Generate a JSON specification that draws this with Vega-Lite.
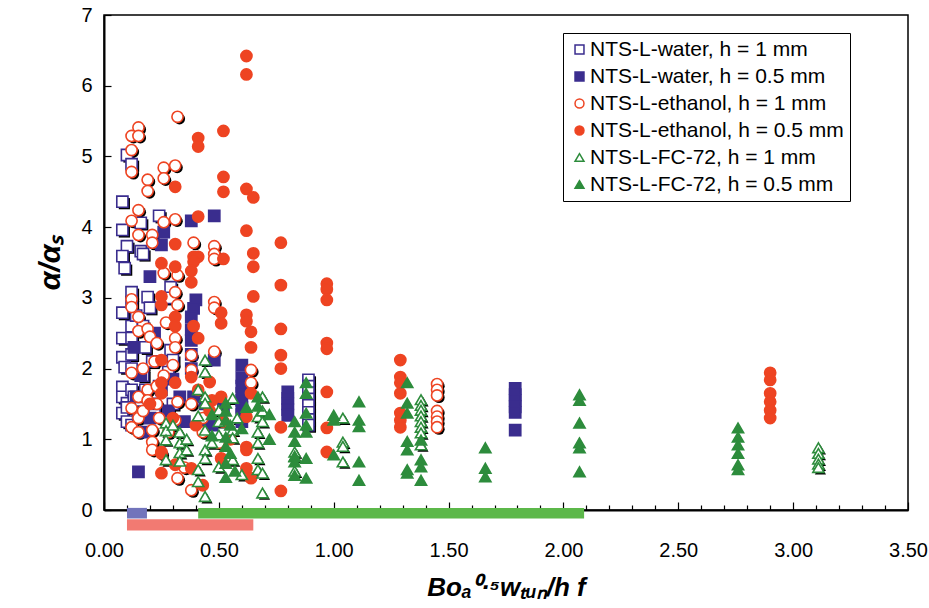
{
  "$schema": "https://vega.github.io/schema/vega-lite/v6.json",
  "autosize": {"type": "none"},
  "padding": {"left": 104, "top": 15, "right": 21, "bottom": 98},
  "width": 804,
  "height": 495,
  "background": "white",
  "config": {
    "view": {"stroke": "black", "strokeWidth": 1.5},
    "font": "Liberation Sans",
    "axis": {"domainColor": "black", "domainWidth": 2, "tickColor": "black", "tickWidth": 1.2, "labelColor": "black", "titleColor": "black", "grid": false, "labelFont": "Liberation Sans", "titleFont": "Liberation Sans"}
  },
  "resolve": {"axis": {"x": "independent"}},
  "datasets": {
    "bars": [
      {"liquid": "water", "x0": 0.1, "x1": 0.187, "y0": 0.03, "y1": -0.12},
      {"liquid": "FC-72", "x0": 0.41, "x1": 2.09, "y0": 0.03, "y1": -0.12},
      {"liquid": "ethanol", "x0": 0.1, "x1": 0.65, "y0": -0.13, "y1": -0.29}
    ],
    "pts": [
      {"series": "NTS-L-water, h = 1 mm", "x": 0.08, "y": 4.36},
      {"series": "NTS-L-water, h = 1 mm", "x": 0.10, "y": 5.02},
      {"series": "NTS-L-water, h = 1 mm", "x": 0.12, "y": 4.89},
      {"series": "NTS-L-water, h = 1 mm", "x": 0.24, "y": 4.16},
      {"series": "NTS-L-water, h = 1 mm", "x": 0.16, "y": 4.06},
      {"series": "NTS-L-water, h = 1 mm", "x": 0.08, "y": 3.96},
      {"series": "NTS-L-water, h = 1 mm", "x": 0.10, "y": 3.73},
      {"series": "NTS-L-water, h = 1 mm", "x": 0.16, "y": 3.66},
      {"series": "NTS-L-water, h = 1 mm", "x": 0.08, "y": 3.59},
      {"series": "NTS-L-water, h = 1 mm", "x": 0.17, "y": 3.62},
      {"series": "NTS-L-water, h = 1 mm", "x": 0.09, "y": 3.42},
      {"series": "NTS-L-water, h = 1 mm", "x": 0.08, "y": 2.79},
      {"series": "NTS-L-water, h = 1 mm", "x": 0.12, "y": 3.08},
      {"series": "NTS-L-water, h = 1 mm", "x": 0.12, "y": 2.94},
      {"series": "NTS-L-water, h = 1 mm", "x": 0.19, "y": 3.01},
      {"series": "NTS-L-water, h = 1 mm", "x": 0.20, "y": 2.86},
      {"series": "NTS-L-water, h = 1 mm", "x": 0.08, "y": 2.43},
      {"series": "NTS-L-water, h = 1 mm", "x": 0.12, "y": 2.43},
      {"series": "NTS-L-water, h = 1 mm", "x": 0.08, "y": 2.16},
      {"series": "NTS-L-water, h = 1 mm", "x": 0.12, "y": 2.2},
      {"series": "NTS-L-water, h = 1 mm", "x": 0.09, "y": 2.02},
      {"series": "NTS-L-water, h = 1 mm", "x": 0.12, "y": 2.0},
      {"series": "NTS-L-water, h = 1 mm", "x": 0.08, "y": 1.74},
      {"series": "NTS-L-water, h = 1 mm", "x": 0.08, "y": 1.6},
      {"series": "NTS-L-water, h = 1 mm", "x": 0.10, "y": 1.51},
      {"series": "NTS-L-water, h = 1 mm", "x": 0.08, "y": 1.37},
      {"series": "NTS-L-water, h = 1 mm", "x": 0.12, "y": 1.7},
      {"series": "NTS-L-water, h = 1 mm", "x": 0.13, "y": 1.6},
      {"series": "NTS-L-water, h = 1 mm", "x": 0.10, "y": 1.45},
      {"series": "NTS-L-water, h = 1 mm", "x": 0.10, "y": 1.25},
      {"series": "NTS-L-water, h = 1 mm", "x": 0.12, "y": 1.2},
      {"series": "NTS-L-water, h = 1 mm", "x": 0.15, "y": 1.35},
      {"series": "NTS-L-water, h = 1 mm", "x": 0.16, "y": 1.55},
      {"series": "NTS-L-water, h = 1 mm", "x": 0.18, "y": 1.7},
      {"series": "NTS-L-water, h = 1 mm", "x": 0.17, "y": 1.9},
      {"series": "NTS-L-water, h = 1 mm", "x": 0.18, "y": 2.3},
      {"series": "NTS-L-water, h = 1 mm", "x": 0.17, "y": 2.6},
      {"series": "NTS-L-water, h = 1 mm", "x": 0.12, "y": 2.6},
      {"series": "NTS-L-water, h = 1 mm", "x": 0.29, "y": 3.15},
      {"series": "NTS-L-water, h = 1 mm", "x": 0.29, "y": 3.0},
      {"series": "NTS-L-water, h = 1 mm", "x": 0.29, "y": 2.26},
      {"series": "NTS-L-water, h = 1 mm", "x": 0.30, "y": 2.12},
      {"series": "NTS-L-water, h = 1 mm", "x": 0.28, "y": 1.95},
      {"series": "NTS-L-water, h = 1 mm", "x": 0.30, "y": 1.5},
      {"series": "NTS-L-water, h = 1 mm", "x": 0.28, "y": 1.35},
      {"series": "NTS-L-water, h = 1 mm", "x": 0.14, "y": 2.75},
      {"series": "NTS-L-water, h = 1 mm", "x": 0.21, "y": 2.1},
      {"series": "NTS-L-water, h = 1 mm", "x": 0.22, "y": 1.45},
      {"series": "NTS-L-water, h = 1 mm", "x": 0.24, "y": 1.75},
      {"series": "NTS-L-water, h = 1 mm", "x": 0.89, "y": 1.84},
      {"series": "NTS-L-water, h = 1 mm", "x": 0.89, "y": 1.75},
      {"series": "NTS-L-water, h = 1 mm", "x": 0.89, "y": 1.66},
      {"series": "NTS-L-water, h = 1 mm", "x": 0.89, "y": 1.57},
      {"series": "NTS-L-water, h = 1 mm", "x": 0.89, "y": 1.48},
      {"series": "NTS-L-water, h = 1 mm", "x": 0.89, "y": 1.38},
      {"series": "NTS-L-water, h = 1 mm", "x": 0.89, "y": 1.28},
      {"series": "NTS-L-water, h = 1 mm", "x": 0.89, "y": 1.2},

      {"series": "NTS-L-water, h = 0.5 mm", "x": 0.48, "y": 4.16},
      {"series": "NTS-L-water, h = 0.5 mm", "x": 0.38, "y": 4.09},
      {"series": "NTS-L-water, h = 0.5 mm", "x": 0.26, "y": 3.93},
      {"series": "NTS-L-water, h = 0.5 mm", "x": 0.15, "y": 0.54},
      {"series": "NTS-L-water, h = 0.5 mm", "x": 0.40, "y": 2.97},
      {"series": "NTS-L-water, h = 0.5 mm", "x": 0.39, "y": 2.85},
      {"series": "NTS-L-water, h = 0.5 mm", "x": 0.38, "y": 2.73},
      {"series": "NTS-L-water, h = 0.5 mm", "x": 0.38, "y": 2.55},
      {"series": "NTS-L-water, h = 0.5 mm", "x": 0.38, "y": 2.4},
      {"series": "NTS-L-water, h = 0.5 mm", "x": 0.38, "y": 2.2},
      {"series": "NTS-L-water, h = 0.5 mm", "x": 0.38, "y": 2.0},
      {"series": "NTS-L-water, h = 0.5 mm", "x": 0.48, "y": 2.12},
      {"series": "NTS-L-water, h = 0.5 mm", "x": 0.60, "y": 2.05},
      {"series": "NTS-L-water, h = 0.5 mm", "x": 0.60, "y": 1.87},
      {"series": "NTS-L-water, h = 0.5 mm", "x": 0.60, "y": 1.75},
      {"series": "NTS-L-water, h = 0.5 mm", "x": 0.60, "y": 1.65},
      {"series": "NTS-L-water, h = 0.5 mm", "x": 0.60, "y": 1.55},
      {"series": "NTS-L-water, h = 0.5 mm", "x": 0.60, "y": 1.45},
      {"series": "NTS-L-water, h = 0.5 mm", "x": 0.60, "y": 1.35},
      {"series": "NTS-L-water, h = 0.5 mm", "x": 0.60, "y": 1.25},
      {"series": "NTS-L-water, h = 0.5 mm", "x": 0.80, "y": 1.67},
      {"series": "NTS-L-water, h = 0.5 mm", "x": 0.80, "y": 1.58},
      {"series": "NTS-L-water, h = 0.5 mm", "x": 0.80, "y": 1.5},
      {"series": "NTS-L-water, h = 0.5 mm", "x": 0.80, "y": 1.42},
      {"series": "NTS-L-water, h = 0.5 mm", "x": 0.80, "y": 1.34},
      {"series": "NTS-L-water, h = 0.5 mm", "x": 1.79, "y": 1.72},
      {"series": "NTS-L-water, h = 0.5 mm", "x": 1.79, "y": 1.63},
      {"series": "NTS-L-water, h = 0.5 mm", "x": 1.79, "y": 1.55},
      {"series": "NTS-L-water, h = 0.5 mm", "x": 1.79, "y": 1.46},
      {"series": "NTS-L-water, h = 0.5 mm", "x": 1.79, "y": 1.38},
      {"series": "NTS-L-water, h = 0.5 mm", "x": 1.79, "y": 1.13},
      {"series": "NTS-L-water, h = 0.5 mm", "x": 0.20, "y": 1.3},
      {"series": "NTS-L-water, h = 0.5 mm", "x": 0.22, "y": 1.5},
      {"series": "NTS-L-water, h = 0.5 mm", "x": 0.25, "y": 1.7},
      {"series": "NTS-L-water, h = 0.5 mm", "x": 0.28, "y": 1.4},
      {"series": "NTS-L-water, h = 0.5 mm", "x": 0.33, "y": 1.6},
      {"series": "NTS-L-water, h = 0.5 mm", "x": 0.35, "y": 1.25},
      {"series": "NTS-L-water, h = 0.5 mm", "x": 0.18, "y": 1.1},
      {"series": "NTS-L-water, h = 0.5 mm", "x": 0.14, "y": 1.6},
      {"series": "NTS-L-water, h = 0.5 mm", "x": 0.16, "y": 1.9},
      {"series": "NTS-L-water, h = 0.5 mm", "x": 0.30, "y": 1.85},
      {"series": "NTS-L-water, h = 0.5 mm", "x": 0.44, "y": 1.5},
      {"series": "NTS-L-water, h = 0.5 mm", "x": 0.44, "y": 1.25},
      {"series": "NTS-L-water, h = 0.5 mm", "x": 0.52, "y": 1.45},
      {"series": "NTS-L-water, h = 0.5 mm", "x": 0.25, "y": 3.75},
      {"series": "NTS-L-water, h = 0.5 mm", "x": 0.20, "y": 3.3},
      {"series": "NTS-L-water, h = 0.5 mm", "x": 0.13, "y": 2.3},
      {"series": "NTS-L-water, h = 0.5 mm", "x": 0.22, "y": 2.5},
      {"series": "NTS-L-water, h = 0.5 mm", "x": 0.39, "y": 1.6},
      {"series": "NTS-L-water, h = 0.5 mm", "x": 0.47, "y": 1.2},

      {"series": "NTS-L-ethanol, h = 1 mm", "x": 0.32, "y": 5.56},
      {"series": "NTS-L-ethanol, h = 1 mm", "x": 0.15, "y": 5.41},
      {"series": "NTS-L-ethanol, h = 1 mm", "x": 0.12, "y": 5.29},
      {"series": "NTS-L-ethanol, h = 1 mm", "x": 0.15, "y": 5.29},
      {"series": "NTS-L-ethanol, h = 1 mm", "x": 0.12, "y": 5.09},
      {"series": "NTS-L-ethanol, h = 1 mm", "x": 0.12, "y": 4.78},
      {"series": "NTS-L-ethanol, h = 1 mm", "x": 0.26, "y": 4.84},
      {"series": "NTS-L-ethanol, h = 1 mm", "x": 0.31, "y": 4.87},
      {"series": "NTS-L-ethanol, h = 1 mm", "x": 0.26, "y": 4.69},
      {"series": "NTS-L-ethanol, h = 1 mm", "x": 0.19, "y": 4.67},
      {"series": "NTS-L-ethanol, h = 1 mm", "x": 0.19, "y": 4.51},
      {"series": "NTS-L-ethanol, h = 1 mm", "x": 0.15, "y": 4.24},
      {"series": "NTS-L-ethanol, h = 1 mm", "x": 0.12, "y": 4.09},
      {"series": "NTS-L-ethanol, h = 1 mm", "x": 0.26, "y": 4.07},
      {"series": "NTS-L-ethanol, h = 1 mm", "x": 0.31, "y": 4.11},
      {"series": "NTS-L-ethanol, h = 1 mm", "x": 0.15, "y": 3.89},
      {"series": "NTS-L-ethanol, h = 1 mm", "x": 0.21, "y": 3.89},
      {"series": "NTS-L-ethanol, h = 1 mm", "x": 0.21, "y": 3.78},
      {"series": "NTS-L-ethanol, h = 1 mm", "x": 0.39, "y": 3.78},
      {"series": "NTS-L-ethanol, h = 1 mm", "x": 0.48, "y": 3.73},
      {"series": "NTS-L-ethanol, h = 1 mm", "x": 0.48, "y": 3.62},
      {"series": "NTS-L-ethanol, h = 1 mm", "x": 0.48, "y": 3.55},
      {"series": "NTS-L-ethanol, h = 1 mm", "x": 0.26, "y": 3.35},
      {"series": "NTS-L-ethanol, h = 1 mm", "x": 0.32, "y": 3.32},
      {"series": "NTS-L-ethanol, h = 1 mm", "x": 0.31, "y": 3.08},
      {"series": "NTS-L-ethanol, h = 1 mm", "x": 0.32, "y": 2.9},
      {"series": "NTS-L-ethanol, h = 1 mm", "x": 0.48, "y": 2.94},
      {"series": "NTS-L-ethanol, h = 1 mm", "x": 0.48, "y": 2.86},
      {"series": "NTS-L-ethanol, h = 1 mm", "x": 0.15, "y": 2.73},
      {"series": "NTS-L-ethanol, h = 1 mm", "x": 0.12, "y": 2.98},
      {"series": "NTS-L-ethanol, h = 1 mm", "x": 0.12, "y": 2.87},
      {"series": "NTS-L-ethanol, h = 1 mm", "x": 0.15, "y": 2.53},
      {"series": "NTS-L-ethanol, h = 1 mm", "x": 0.19, "y": 2.56},
      {"series": "NTS-L-ethanol, h = 1 mm", "x": 0.20, "y": 2.45},
      {"series": "NTS-L-ethanol, h = 1 mm", "x": 0.23, "y": 2.36},
      {"series": "NTS-L-ethanol, h = 1 mm", "x": 0.31, "y": 2.43},
      {"series": "NTS-L-ethanol, h = 1 mm", "x": 0.31, "y": 2.3},
      {"series": "NTS-L-ethanol, h = 1 mm", "x": 0.38, "y": 2.19},
      {"series": "NTS-L-ethanol, h = 1 mm", "x": 0.48, "y": 2.24},
      {"series": "NTS-L-ethanol, h = 1 mm", "x": 0.12, "y": 1.94},
      {"series": "NTS-L-ethanol, h = 1 mm", "x": 0.15, "y": 1.6},
      {"series": "NTS-L-ethanol, h = 1 mm", "x": 0.12, "y": 1.44},
      {"series": "NTS-L-ethanol, h = 1 mm", "x": 0.15, "y": 1.3},
      {"series": "NTS-L-ethanol, h = 1 mm", "x": 0.12, "y": 1.17},
      {"series": "NTS-L-ethanol, h = 1 mm", "x": 0.15, "y": 1.1},
      {"series": "NTS-L-ethanol, h = 1 mm", "x": 0.21, "y": 1.13},
      {"series": "NTS-L-ethanol, h = 1 mm", "x": 0.21, "y": 0.96},
      {"series": "NTS-L-ethanol, h = 1 mm", "x": 0.21, "y": 0.85},
      {"series": "NTS-L-ethanol, h = 1 mm", "x": 0.19, "y": 1.7},
      {"series": "NTS-L-ethanol, h = 1 mm", "x": 0.19, "y": 1.55},
      {"series": "NTS-L-ethanol, h = 1 mm", "x": 0.23, "y": 1.75},
      {"series": "NTS-L-ethanol, h = 1 mm", "x": 0.23, "y": 1.5},
      {"series": "NTS-L-ethanol, h = 1 mm", "x": 0.24, "y": 1.3},
      {"series": "NTS-L-ethanol, h = 1 mm", "x": 0.32, "y": 1.53},
      {"series": "NTS-L-ethanol, h = 1 mm", "x": 0.31, "y": 1.27},
      {"series": "NTS-L-ethanol, h = 1 mm", "x": 0.38, "y": 1.98},
      {"series": "NTS-L-ethanol, h = 1 mm", "x": 0.38, "y": 1.5},
      {"series": "NTS-L-ethanol, h = 1 mm", "x": 0.32, "y": 0.45},
      {"series": "NTS-L-ethanol, h = 1 mm", "x": 0.38, "y": 0.28},
      {"series": "NTS-L-ethanol, h = 1 mm", "x": 0.64, "y": 1.98},
      {"series": "NTS-L-ethanol, h = 1 mm", "x": 0.64, "y": 1.8},
      {"series": "NTS-L-ethanol, h = 1 mm", "x": 0.17, "y": 2.0},
      {"series": "NTS-L-ethanol, h = 1 mm", "x": 0.22, "y": 2.1},
      {"series": "NTS-L-ethanol, h = 1 mm", "x": 0.26, "y": 1.9},
      {"series": "NTS-L-ethanol, h = 1 mm", "x": 0.28, "y": 1.1},
      {"series": "NTS-L-ethanol, h = 1 mm", "x": 0.25, "y": 0.8},
      {"series": "NTS-L-ethanol, h = 1 mm", "x": 0.35, "y": 0.6},
      {"series": "NTS-L-ethanol, h = 1 mm", "x": 0.43, "y": 1.3},
      {"series": "NTS-L-ethanol, h = 1 mm", "x": 0.43, "y": 1.1},
      {"series": "NTS-L-ethanol, h = 1 mm", "x": 0.50, "y": 0.95},
      {"series": "NTS-L-ethanol, h = 1 mm", "x": 0.17, "y": 1.4},
      {"series": "NTS-L-ethanol, h = 1 mm", "x": 0.27, "y": 2.65},
      {"series": "NTS-L-ethanol, h = 1 mm", "x": 0.30, "y": 2.05},
      {"series": "NTS-L-ethanol, h = 1 mm", "x": 1.45, "y": 1.78},
      {"series": "NTS-L-ethanol, h = 1 mm", "x": 1.45, "y": 1.7},
      {"series": "NTS-L-ethanol, h = 1 mm", "x": 1.45, "y": 1.62},
      {"series": "NTS-L-ethanol, h = 1 mm", "x": 1.45, "y": 1.4},
      {"series": "NTS-L-ethanol, h = 1 mm", "x": 1.45, "y": 1.32},
      {"series": "NTS-L-ethanol, h = 1 mm", "x": 1.45, "y": 1.25},
      {"series": "NTS-L-ethanol, h = 1 mm", "x": 1.45, "y": 1.17},

      {"series": "NTS-L-ethanol, h = 0.5 mm", "x": 0.62, "y": 6.42},
      {"series": "NTS-L-ethanol, h = 0.5 mm", "x": 0.62, "y": 6.16},
      {"series": "NTS-L-ethanol, h = 0.5 mm", "x": 0.52, "y": 5.36},
      {"series": "NTS-L-ethanol, h = 0.5 mm", "x": 0.41, "y": 5.26},
      {"series": "NTS-L-ethanol, h = 0.5 mm", "x": 0.41, "y": 5.14},
      {"series": "NTS-L-ethanol, h = 0.5 mm", "x": 0.52, "y": 4.71},
      {"series": "NTS-L-ethanol, h = 0.5 mm", "x": 0.31, "y": 4.57},
      {"series": "NTS-L-ethanol, h = 0.5 mm", "x": 0.52, "y": 4.5},
      {"series": "NTS-L-ethanol, h = 0.5 mm", "x": 0.62, "y": 4.54},
      {"series": "NTS-L-ethanol, h = 0.5 mm", "x": 0.65, "y": 4.42},
      {"series": "NTS-L-ethanol, h = 0.5 mm", "x": 0.41, "y": 4.15},
      {"series": "NTS-L-ethanol, h = 0.5 mm", "x": 0.62, "y": 3.95},
      {"series": "NTS-L-ethanol, h = 0.5 mm", "x": 0.77, "y": 3.78},
      {"series": "NTS-L-ethanol, h = 0.5 mm", "x": 0.31, "y": 3.76},
      {"series": "NTS-L-ethanol, h = 0.5 mm", "x": 0.65, "y": 3.63},
      {"series": "NTS-L-ethanol, h = 0.5 mm", "x": 0.39, "y": 3.58},
      {"series": "NTS-L-ethanol, h = 0.5 mm", "x": 0.41, "y": 3.58},
      {"series": "NTS-L-ethanol, h = 0.5 mm", "x": 0.52, "y": 3.55},
      {"series": "NTS-L-ethanol, h = 0.5 mm", "x": 0.65, "y": 3.44},
      {"series": "NTS-L-ethanol, h = 0.5 mm", "x": 0.77, "y": 3.18},
      {"series": "NTS-L-ethanol, h = 0.5 mm", "x": 0.97, "y": 3.2},
      {"series": "NTS-L-ethanol, h = 0.5 mm", "x": 0.97, "y": 3.12},
      {"series": "NTS-L-ethanol, h = 0.5 mm", "x": 0.97, "y": 2.97},
      {"series": "NTS-L-ethanol, h = 0.5 mm", "x": 0.65, "y": 3.02},
      {"series": "NTS-L-ethanol, h = 0.5 mm", "x": 0.25, "y": 3.49},
      {"series": "NTS-L-ethanol, h = 0.5 mm", "x": 0.31, "y": 3.44},
      {"series": "NTS-L-ethanol, h = 0.5 mm", "x": 0.39, "y": 3.51},
      {"series": "NTS-L-ethanol, h = 0.5 mm", "x": 0.38, "y": 3.38},
      {"series": "NTS-L-ethanol, h = 0.5 mm", "x": 0.38, "y": 3.22},
      {"series": "NTS-L-ethanol, h = 0.5 mm", "x": 0.25, "y": 3.02},
      {"series": "NTS-L-ethanol, h = 0.5 mm", "x": 0.25, "y": 2.9},
      {"series": "NTS-L-ethanol, h = 0.5 mm", "x": 0.51, "y": 2.79},
      {"series": "NTS-L-ethanol, h = 0.5 mm", "x": 0.51, "y": 2.64},
      {"series": "NTS-L-ethanol, h = 0.5 mm", "x": 0.62, "y": 2.76},
      {"series": "NTS-L-ethanol, h = 0.5 mm", "x": 0.62, "y": 2.67},
      {"series": "NTS-L-ethanol, h = 0.5 mm", "x": 0.64, "y": 2.52},
      {"series": "NTS-L-ethanol, h = 0.5 mm", "x": 0.77, "y": 2.56},
      {"series": "NTS-L-ethanol, h = 0.5 mm", "x": 0.64, "y": 2.3},
      {"series": "NTS-L-ethanol, h = 0.5 mm", "x": 0.77, "y": 2.19},
      {"series": "NTS-L-ethanol, h = 0.5 mm", "x": 0.77, "y": 2.0},
      {"series": "NTS-L-ethanol, h = 0.5 mm", "x": 0.97, "y": 2.36},
      {"series": "NTS-L-ethanol, h = 0.5 mm", "x": 0.97, "y": 2.28},
      {"series": "NTS-L-ethanol, h = 0.5 mm", "x": 0.31, "y": 2.73},
      {"series": "NTS-L-ethanol, h = 0.5 mm", "x": 0.31, "y": 2.6},
      {"series": "NTS-L-ethanol, h = 0.5 mm", "x": 0.39, "y": 2.6},
      {"series": "NTS-L-ethanol, h = 0.5 mm", "x": 0.41, "y": 2.43},
      {"series": "NTS-L-ethanol, h = 0.5 mm", "x": 0.25, "y": 2.12},
      {"series": "NTS-L-ethanol, h = 0.5 mm", "x": 0.25, "y": 1.8},
      {"series": "NTS-L-ethanol, h = 0.5 mm", "x": 0.31, "y": 1.8},
      {"series": "NTS-L-ethanol, h = 0.5 mm", "x": 0.38, "y": 1.88},
      {"series": "NTS-L-ethanol, h = 0.5 mm", "x": 0.46, "y": 1.81},
      {"series": "NTS-L-ethanol, h = 0.5 mm", "x": 0.51, "y": 1.6},
      {"series": "NTS-L-ethanol, h = 0.5 mm", "x": 0.46, "y": 1.4},
      {"series": "NTS-L-ethanol, h = 0.5 mm", "x": 0.62, "y": 1.32},
      {"series": "NTS-L-ethanol, h = 0.5 mm", "x": 0.62, "y": 0.89},
      {"series": "NTS-L-ethanol, h = 0.5 mm", "x": 0.62, "y": 0.85},
      {"series": "NTS-L-ethanol, h = 0.5 mm", "x": 0.62, "y": 0.59},
      {"series": "NTS-L-ethanol, h = 0.5 mm", "x": 0.64, "y": 0.45},
      {"series": "NTS-L-ethanol, h = 0.5 mm", "x": 0.77, "y": 1.17},
      {"series": "NTS-L-ethanol, h = 0.5 mm", "x": 0.77, "y": 0.27},
      {"series": "NTS-L-ethanol, h = 0.5 mm", "x": 0.51, "y": 0.73},
      {"series": "NTS-L-ethanol, h = 0.5 mm", "x": 0.25, "y": 0.82},
      {"series": "NTS-L-ethanol, h = 0.5 mm", "x": 0.25, "y": 0.52},
      {"series": "NTS-L-ethanol, h = 0.5 mm", "x": 0.31, "y": 0.64},
      {"series": "NTS-L-ethanol, h = 0.5 mm", "x": 0.38, "y": 0.59},
      {"series": "NTS-L-ethanol, h = 0.5 mm", "x": 0.97, "y": 1.67},
      {"series": "NTS-L-ethanol, h = 0.5 mm", "x": 0.97, "y": 1.16},
      {"series": "NTS-L-ethanol, h = 0.5 mm", "x": 0.97, "y": 0.82},
      {"series": "NTS-L-ethanol, h = 0.5 mm", "x": 0.25, "y": 1.65},
      {"series": "NTS-L-ethanol, h = 0.5 mm", "x": 0.41, "y": 1.7},
      {"series": "NTS-L-ethanol, h = 0.5 mm", "x": 0.47, "y": 1.55},
      {"series": "NTS-L-ethanol, h = 0.5 mm", "x": 0.40, "y": 1.2},
      {"series": "NTS-L-ethanol, h = 0.5 mm", "x": 0.55, "y": 1.0},
      {"series": "NTS-L-ethanol, h = 0.5 mm", "x": 0.30, "y": 1.3},
      {"series": "NTS-L-ethanol, h = 0.5 mm", "x": 0.20, "y": 1.5},
      {"series": "NTS-L-ethanol, h = 0.5 mm", "x": 0.64, "y": 1.65},
      {"series": "NTS-L-ethanol, h = 0.5 mm", "x": 0.52, "y": 1.25},
      {"series": "NTS-L-ethanol, h = 0.5 mm", "x": 0.43, "y": 0.35},
      {"series": "NTS-L-ethanol, h = 0.5 mm", "x": 1.29, "y": 2.12},
      {"series": "NTS-L-ethanol, h = 0.5 mm", "x": 1.29, "y": 1.88},
      {"series": "NTS-L-ethanol, h = 0.5 mm", "x": 1.29, "y": 1.8},
      {"series": "NTS-L-ethanol, h = 0.5 mm", "x": 1.29, "y": 1.65},
      {"series": "NTS-L-ethanol, h = 0.5 mm", "x": 1.29, "y": 1.37},
      {"series": "NTS-L-ethanol, h = 0.5 mm", "x": 1.29, "y": 1.27},
      {"series": "NTS-L-ethanol, h = 0.5 mm", "x": 1.29, "y": 1.17},
      {"series": "NTS-L-ethanol, h = 0.5 mm", "x": 2.9, "y": 1.94},
      {"series": "NTS-L-ethanol, h = 0.5 mm", "x": 2.9, "y": 1.84},
      {"series": "NTS-L-ethanol, h = 0.5 mm", "x": 2.9, "y": 1.65},
      {"series": "NTS-L-ethanol, h = 0.5 mm", "x": 2.9, "y": 1.53},
      {"series": "NTS-L-ethanol, h = 0.5 mm", "x": 2.9, "y": 1.41},
      {"series": "NTS-L-ethanol, h = 0.5 mm", "x": 2.9, "y": 1.3},

      {"series": "NTS-L-FC-72, h = 1 mm", "x": 0.44, "y": 2.12},
      {"series": "NTS-L-FC-72, h = 1 mm", "x": 0.44, "y": 1.95},
      {"series": "NTS-L-FC-72, h = 1 mm", "x": 0.41, "y": 1.7},
      {"series": "NTS-L-FC-72, h = 1 mm", "x": 0.44, "y": 1.6},
      {"series": "NTS-L-FC-72, h = 1 mm", "x": 0.44, "y": 1.51},
      {"series": "NTS-L-FC-72, h = 1 mm", "x": 0.41, "y": 1.33},
      {"series": "NTS-L-FC-72, h = 1 mm", "x": 0.27, "y": 1.23},
      {"series": "NTS-L-FC-72, h = 1 mm", "x": 0.27, "y": 1.12},
      {"series": "NTS-L-FC-72, h = 1 mm", "x": 0.27, "y": 0.99},
      {"series": "NTS-L-FC-72, h = 1 mm", "x": 0.33, "y": 1.1},
      {"series": "NTS-L-FC-72, h = 1 mm", "x": 0.33, "y": 0.95},
      {"series": "NTS-L-FC-72, h = 1 mm", "x": 0.33, "y": 0.81},
      {"series": "NTS-L-FC-72, h = 1 mm", "x": 0.33, "y": 0.69},
      {"series": "NTS-L-FC-72, h = 1 mm", "x": 0.27, "y": 0.71},
      {"series": "NTS-L-FC-72, h = 1 mm", "x": 0.44, "y": 1.13},
      {"series": "NTS-L-FC-72, h = 1 mm", "x": 0.44, "y": 0.85},
      {"series": "NTS-L-FC-72, h = 1 mm", "x": 0.44, "y": 0.73},
      {"series": "NTS-L-FC-72, h = 1 mm", "x": 0.41, "y": 0.57},
      {"series": "NTS-L-FC-72, h = 1 mm", "x": 0.41, "y": 0.4},
      {"series": "NTS-L-FC-72, h = 1 mm", "x": 0.44, "y": 0.19},
      {"series": "NTS-L-FC-72, h = 1 mm", "x": 0.50, "y": 1.41},
      {"series": "NTS-L-FC-72, h = 1 mm", "x": 0.50, "y": 1.25},
      {"series": "NTS-L-FC-72, h = 1 mm", "x": 0.50, "y": 1.06},
      {"series": "NTS-L-FC-72, h = 1 mm", "x": 0.50, "y": 0.61},
      {"series": "NTS-L-FC-72, h = 1 mm", "x": 0.56, "y": 1.58},
      {"series": "NTS-L-FC-72, h = 1 mm", "x": 0.56, "y": 1.13},
      {"series": "NTS-L-FC-72, h = 1 mm", "x": 0.56, "y": 1.02},
      {"series": "NTS-L-FC-72, h = 1 mm", "x": 0.56, "y": 0.71},
      {"series": "NTS-L-FC-72, h = 1 mm", "x": 0.67, "y": 1.32},
      {"series": "NTS-L-FC-72, h = 1 mm", "x": 0.67, "y": 1.1},
      {"series": "NTS-L-FC-72, h = 1 mm", "x": 0.67, "y": 0.95},
      {"series": "NTS-L-FC-72, h = 1 mm", "x": 0.67, "y": 0.73},
      {"series": "NTS-L-FC-72, h = 1 mm", "x": 0.67, "y": 0.57},
      {"series": "NTS-L-FC-72, h = 1 mm", "x": 0.69, "y": 1.6},
      {"series": "NTS-L-FC-72, h = 1 mm", "x": 0.69, "y": 1.4},
      {"series": "NTS-L-FC-72, h = 1 mm", "x": 0.69, "y": 1.25},
      {"series": "NTS-L-FC-72, h = 1 mm", "x": 0.69, "y": 0.52},
      {"series": "NTS-L-FC-72, h = 1 mm", "x": 0.69, "y": 0.24},
      {"series": "NTS-L-FC-72, h = 1 mm", "x": 1.04, "y": 1.3},
      {"series": "NTS-L-FC-72, h = 1 mm", "x": 1.04, "y": 0.96},
      {"series": "NTS-L-FC-72, h = 1 mm", "x": 1.04, "y": 0.9},
      {"series": "NTS-L-FC-72, h = 1 mm", "x": 1.04, "y": 0.68},
      {"series": "NTS-L-FC-72, h = 1 mm", "x": 0.83, "y": 0.82},
      {"series": "NTS-L-FC-72, h = 1 mm", "x": 0.83, "y": 0.76},
      {"series": "NTS-L-FC-72, h = 1 mm", "x": 0.83, "y": 0.55},
      {"series": "NTS-L-FC-72, h = 1 mm", "x": 0.36, "y": 1.0},
      {"series": "NTS-L-FC-72, h = 1 mm", "x": 0.36, "y": 0.85},
      {"series": "NTS-L-FC-72, h = 1 mm", "x": 0.58, "y": 1.3},
      {"series": "NTS-L-FC-72, h = 1 mm", "x": 0.60, "y": 0.5},
      {"series": "NTS-L-FC-72, h = 1 mm", "x": 0.30, "y": 1.2},
      {"series": "NTS-L-FC-72, h = 1 mm", "x": 0.47, "y": 0.95},
      {"series": "NTS-L-FC-72, h = 1 mm", "x": 1.38, "y": 1.56},
      {"series": "NTS-L-FC-72, h = 1 mm", "x": 1.38, "y": 1.48},
      {"series": "NTS-L-FC-72, h = 1 mm", "x": 1.38, "y": 1.41},
      {"series": "NTS-L-FC-72, h = 1 mm", "x": 1.38, "y": 1.33},
      {"series": "NTS-L-FC-72, h = 1 mm", "x": 1.38, "y": 1.25},
      {"series": "NTS-L-FC-72, h = 1 mm", "x": 1.38, "y": 1.17},
      {"series": "NTS-L-FC-72, h = 1 mm", "x": 1.38, "y": 1.09},
      {"series": "NTS-L-FC-72, h = 1 mm", "x": 1.38, "y": 0.92},
      {"series": "NTS-L-FC-72, h = 1 mm", "x": 3.11, "y": 0.88},
      {"series": "NTS-L-FC-72, h = 1 mm", "x": 3.11, "y": 0.8},
      {"series": "NTS-L-FC-72, h = 1 mm", "x": 3.11, "y": 0.72},
      {"series": "NTS-L-FC-72, h = 1 mm", "x": 3.11, "y": 0.65},
      {"series": "NTS-L-FC-72, h = 1 mm", "x": 3.11, "y": 0.6},

      {"series": "NTS-L-FC-72, h = 0.5 mm", "x": 0.53, "y": 1.51},
      {"series": "NTS-L-FC-72, h = 0.5 mm", "x": 0.53, "y": 1.4},
      {"series": "NTS-L-FC-72, h = 0.5 mm", "x": 0.53, "y": 1.27},
      {"series": "NTS-L-FC-72, h = 0.5 mm", "x": 0.53, "y": 1.03},
      {"series": "NTS-L-FC-72, h = 0.5 mm", "x": 0.53, "y": 0.9},
      {"series": "NTS-L-FC-72, h = 0.5 mm", "x": 0.53, "y": 0.66},
      {"series": "NTS-L-FC-72, h = 0.5 mm", "x": 0.53, "y": 0.46},
      {"series": "NTS-L-FC-72, h = 0.5 mm", "x": 0.67, "y": 1.6},
      {"series": "NTS-L-FC-72, h = 0.5 mm", "x": 0.67, "y": 1.47},
      {"series": "NTS-L-FC-72, h = 0.5 mm", "x": 0.83, "y": 1.25},
      {"series": "NTS-L-FC-72, h = 0.5 mm", "x": 0.83, "y": 1.1},
      {"series": "NTS-L-FC-72, h = 0.5 mm", "x": 0.83, "y": 0.97},
      {"series": "NTS-L-FC-72, h = 0.5 mm", "x": 0.83, "y": 0.75},
      {"series": "NTS-L-FC-72, h = 0.5 mm", "x": 0.83, "y": 0.68},
      {"series": "NTS-L-FC-72, h = 0.5 mm", "x": 0.83, "y": 0.49},
      {"series": "NTS-L-FC-72, h = 0.5 mm", "x": 0.88, "y": 1.8},
      {"series": "NTS-L-FC-72, h = 0.5 mm", "x": 0.88, "y": 1.65},
      {"series": "NTS-L-FC-72, h = 0.5 mm", "x": 0.88, "y": 1.37},
      {"series": "NTS-L-FC-72, h = 0.5 mm", "x": 0.88, "y": 1.2},
      {"series": "NTS-L-FC-72, h = 0.5 mm", "x": 0.88, "y": 1.1},
      {"series": "NTS-L-FC-72, h = 0.5 mm", "x": 0.88, "y": 0.73},
      {"series": "NTS-L-FC-72, h = 0.5 mm", "x": 0.88, "y": 0.45},
      {"series": "NTS-L-FC-72, h = 0.5 mm", "x": 1.0, "y": 1.34},
      {"series": "NTS-L-FC-72, h = 0.5 mm", "x": 1.0, "y": 1.27},
      {"series": "NTS-L-FC-72, h = 0.5 mm", "x": 1.0, "y": 0.78},
      {"series": "NTS-L-FC-72, h = 0.5 mm", "x": 1.11, "y": 1.53},
      {"series": "NTS-L-FC-72, h = 0.5 mm", "x": 1.11, "y": 1.27},
      {"series": "NTS-L-FC-72, h = 0.5 mm", "x": 1.11, "y": 1.18},
      {"series": "NTS-L-FC-72, h = 0.5 mm", "x": 1.11, "y": 0.68},
      {"series": "NTS-L-FC-72, h = 0.5 mm", "x": 1.11, "y": 0.42},
      {"series": "NTS-L-FC-72, h = 0.5 mm", "x": 1.32, "y": 1.8},
      {"series": "NTS-L-FC-72, h = 0.5 mm", "x": 1.32, "y": 1.51},
      {"series": "NTS-L-FC-72, h = 0.5 mm", "x": 1.32, "y": 1.37},
      {"series": "NTS-L-FC-72, h = 0.5 mm", "x": 1.32, "y": 0.97},
      {"series": "NTS-L-FC-72, h = 0.5 mm", "x": 1.32, "y": 0.85},
      {"series": "NTS-L-FC-72, h = 0.5 mm", "x": 1.32, "y": 0.57},
      {"series": "NTS-L-FC-72, h = 0.5 mm", "x": 1.32, "y": 0.52},
      {"series": "NTS-L-FC-72, h = 0.5 mm", "x": 1.38, "y": 0.99},
      {"series": "NTS-L-FC-72, h = 0.5 mm", "x": 1.38, "y": 0.71},
      {"series": "NTS-L-FC-72, h = 0.5 mm", "x": 1.38, "y": 0.61},
      {"series": "NTS-L-FC-72, h = 0.5 mm", "x": 1.38, "y": 0.42},
      {"series": "NTS-L-FC-72, h = 0.5 mm", "x": 1.66, "y": 0.88},
      {"series": "NTS-L-FC-72, h = 0.5 mm", "x": 1.66, "y": 0.59},
      {"series": "NTS-L-FC-72, h = 0.5 mm", "x": 1.66, "y": 0.47},
      {"series": "NTS-L-FC-72, h = 0.5 mm", "x": 2.07, "y": 1.63},
      {"series": "NTS-L-FC-72, h = 0.5 mm", "x": 2.07, "y": 1.55},
      {"series": "NTS-L-FC-72, h = 0.5 mm", "x": 2.07, "y": 1.23},
      {"series": "NTS-L-FC-72, h = 0.5 mm", "x": 2.07, "y": 0.95},
      {"series": "NTS-L-FC-72, h = 0.5 mm", "x": 2.07, "y": 0.88},
      {"series": "NTS-L-FC-72, h = 0.5 mm", "x": 2.07, "y": 0.54},
      {"series": "NTS-L-FC-72, h = 0.5 mm", "x": 2.76, "y": 1.16},
      {"series": "NTS-L-FC-72, h = 0.5 mm", "x": 2.76, "y": 1.03},
      {"series": "NTS-L-FC-72, h = 0.5 mm", "x": 2.76, "y": 0.92},
      {"series": "NTS-L-FC-72, h = 0.5 mm", "x": 2.76, "y": 0.8},
      {"series": "NTS-L-FC-72, h = 0.5 mm", "x": 2.76, "y": 0.64},
      {"series": "NTS-L-FC-72, h = 0.5 mm", "x": 2.76, "y": 0.57},
      {"series": "NTS-L-FC-72, h = 0.5 mm", "x": 0.55, "y": 1.2},
      {"series": "NTS-L-FC-72, h = 0.5 mm", "x": 0.55, "y": 0.8},
      {"series": "NTS-L-FC-72, h = 0.5 mm", "x": 0.60, "y": 1.15},
      {"series": "NTS-L-FC-72, h = 0.5 mm", "x": 0.62, "y": 1.45},
      {"series": "NTS-L-FC-72, h = 0.5 mm", "x": 0.47, "y": 1.35},
      {"series": "NTS-L-FC-72, h = 0.5 mm", "x": 0.47, "y": 1.05},
      {"series": "NTS-L-FC-72, h = 0.5 mm", "x": 0.72, "y": 1.35},
      {"series": "NTS-L-FC-72, h = 0.5 mm", "x": 0.72, "y": 1.0},
      {"series": "NTS-L-FC-72, h = 0.5 mm", "x": 0.57, "y": 0.55}
    ]
  },
  "layer": [
    {
      "data": {"name": "bars"},
      "mark": {"type": "rect"},
      "encoding": {
        "x": {
          "field": "x0", "type": "quantitative", "scale": {"domain": [0, 3.5], "nice": false},
          "axis": {
            "orient": "bottom", "title": null, "labels": false, "domain": false,
            "values": [0.1, 0.2, 0.3, 0.4, 0.6, 0.7, 0.8, 0.9, 1.1, 1.2, 1.3, 1.4, 1.6, 1.7, 1.8, 1.9, 2.1, 2.2, 2.3, 2.4, 2.6, 2.7, 2.8, 2.9, 3.1, 3.2, 3.3, 3.4],
            "tickSize": -5
          }
        },
        "x2": {"field": "x1"},
        "y": {"field": "y0", "type": "quantitative", "scale": {"domain": [0, 7], "nice": false}},
        "y2": {"field": "y1"},
        "color": {"field": "liquid", "type": "nominal", "legend": null, "scale": {"domain": ["water", "ethanol", "FC-72"], "range": ["#7274bb", "#f27a72", "#5cb84a"]}}
      }
    },
    {
      "data": {"name": "pts"},
      "transform": [{"filter": "datum.series === 'NTS-L-water, h = 1 mm'"}],
      "mark": {"type": "point", "shape": "square", "filled": true, "color": "black", "opacity": 1, "size": 125, "xOffset": 2, "yOffset": 2},
      "encoding": {"x": {"field": "x", "type": "quantitative", "axis": null}, "y": {"field": "y", "type": "quantitative"}}
    },
    {
      "data": {"name": "pts"},
      "transform": [{"filter": "datum.series === 'NTS-L-ethanol, h = 1 mm'"}],
      "mark": {"type": "point", "shape": "circle", "filled": true, "color": "black", "opacity": 1, "size": 125, "xOffset": 2, "yOffset": 2},
      "encoding": {"x": {"field": "x", "type": "quantitative", "axis": null}, "y": {"field": "y", "type": "quantitative"}}
    },
    {
      "data": {"name": "pts"},
      "transform": [{"filter": "datum.series === 'NTS-L-FC-72, h = 1 mm'"}],
      "mark": {"type": "point", "shape": "triangle-up", "filled": true, "color": "black", "opacity": 1, "size": 125, "xOffset": 2, "yOffset": 2},
      "encoding": {"x": {"field": "x", "type": "quantitative", "axis": null}, "y": {"field": "y", "type": "quantitative"}}
    },
    {
      "data": {"name": "pts"},
      "mark": {"type": "point", "size": 125, "strokeWidth": 1.6, "opacity": 1},
      "encoding": {
        "x": {
          "field": "x", "type": "quantitative",
          "scale": {"domain": [0, 3.5], "nice": false},
          "axis": {
            "orient": "bottom",
            "title": "Boₐ⁰·⁵wₜᵤₙ/h f",
            "titleFontSize": 26, "titleFontWeight": "bold", "titleFontStyle": "italic", "titlePadding": 14,
            "values": [0, 0.5, 1, 1.5, 2, 2.5, 3, 3.5],
            "format": ".2f",
            "labelFontSize": 20, "labelPadding": 38, "labelOverlap": false, "labelFlush": false,
            "tickSize": -8
          }
        },
        "y": {
          "field": "y", "type": "quantitative",
          "scale": {"domain": [0, 7], "nice": false},
          "axis": {
            "title": "α/αₛ", "titleFontSize": 30, "titleFontWeight": "bold", "titleFontStyle": "italic", "titlePadding": 15,
            "values": [0, 1, 2, 3, 4, 5, 6, 7], "format": "d", "labelFontSize": 20, "labelPadding": 19, "tickSize": -7
          }
        },
        "shape": {
          "field": "series", "type": "nominal",
          "scale": {
            "domain": ["NTS-L-water, h = 1 mm", "NTS-L-water, h = 0.5 mm", "NTS-L-ethanol, h = 1 mm", "NTS-L-ethanol, h = 0.5 mm", "NTS-L-FC-72, h = 1 mm", "NTS-L-FC-72, h = 0.5 mm"],
            "range": ["square", "square", "circle", "circle", "triangle-up", "triangle-up"]
          },
          "legend": {
            "title": null, "orient": "none", "legendX": 459, "legendY": 18,
            "strokeColor": "black", "fillColor": "white", "padding": 6,
            "labelFontSize": 21, "labelFont": "Liberation Sans", "labelColor": "black", "labelLimit": 400,
            "symbolSize": 80, "symbolStrokeWidth": 1.5, "rowPadding": 5, "labelOffset": 0, "symbolOpacity": 1
          }
        },
        "stroke": {
          "field": "series", "type": "nominal",
          "scale": {
            "domain": ["NTS-L-water, h = 1 mm", "NTS-L-water, h = 0.5 mm", "NTS-L-ethanol, h = 1 mm", "NTS-L-ethanol, h = 0.5 mm", "NTS-L-FC-72, h = 1 mm", "NTS-L-FC-72, h = 0.5 mm"],
            "range": ["#3a2d8e", "#3a2d8e", "#ee4422", "#ee4422", "#2d8c3c", "#2d8c3c"]
          },
          "legend": {"title": null}
        },
        "fill": {
          "field": "series", "type": "nominal",
          "scale": {
            "domain": ["NTS-L-water, h = 1 mm", "NTS-L-water, h = 0.5 mm", "NTS-L-ethanol, h = 1 mm", "NTS-L-ethanol, h = 0.5 mm", "NTS-L-FC-72, h = 1 mm", "NTS-L-FC-72, h = 0.5 mm"],
            "range": ["white", "#3a2d8e", "white", "#ee4422", "white", "#2d8c3c"]
          },
          "legend": {"title": null}
        }
      }
    }
  ]
}
